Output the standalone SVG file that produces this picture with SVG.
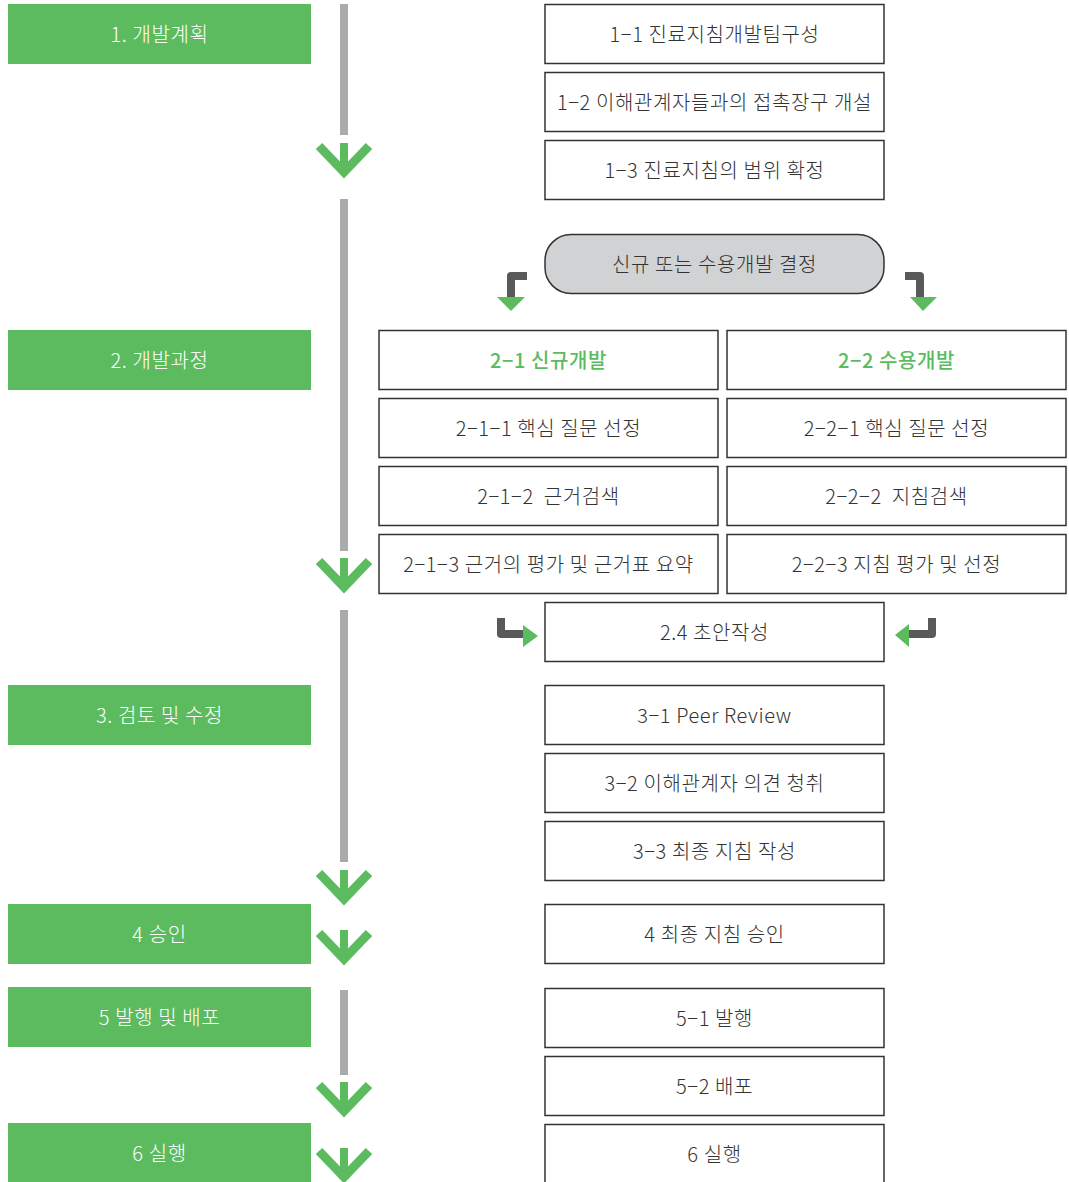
<svg xmlns="http://www.w3.org/2000/svg" width="1069" height="1182" viewBox="0 0 1069 1182">
<style>
.g{fill:#5dbb5f}
.gt{fill:#ffffff;font-family:"Noto Sans CJK KR","Noto Sans",sans-serif;font-size:20px;text-anchor:middle;font-weight:300;letter-spacing:0.6px}
.b{fill:#ffffff;stroke:#333333;stroke-width:1.5}
.t{fill:#333333;font-family:"Noto Sans CJK KR","Noto Sans",sans-serif;font-size:20px;text-anchor:middle;font-weight:300;letter-spacing:0.6px}
.tg{fill:#5dbb5f;font-family:"Noto Sans CJK KR","Noto Sans",sans-serif;font-size:20px;text-anchor:middle;font-weight:500;letter-spacing:0.6px}
.vl{fill:#aaabad}
.bend{fill:none;stroke:#58595b;stroke-width:8;stroke-linejoin:round}
.tri{fill:#5dbb5f}
.chev{fill:none;stroke:#5dbb5f;stroke-width:9}
</style>
<defs>
<g id="chev">
<path class="chev" d="M-25,-29 L0,-3 L25,-29"/>
<rect class="tri" x="-4" y="-32" width="8" height="28"/>
</g>
</defs>
<rect width="1069" height="1182" fill="#ffffff"/>
<g id="connectors">
<rect class="vl" x="340" y="4" width="8" height="131"/>
<rect class="vl" x="340" y="199" width="8" height="352"/>
<rect class="vl" x="340" y="610" width="8" height="252"/>
<rect class="vl" x="340" y="990" width="8" height="85"/>
<use href="#chev" x="344" y="175"/>
<use href="#chev" x="344" y="590"/>
<use href="#chev" x="344" y="902"/>
<use href="#chev" x="344" y="962"/>
<use href="#chev" x="344" y="1114"/>
<use href="#chev" x="344" y="1180"/>
<path class="bend" d="M527,276 L511,276 L511,298"/>
<polygon class="tri" points="497,297 525,297 511,311"/>
<path class="bend" d="M905,276 L920,276 L920,298"/>
<polygon class="tri" points="910,297 937,297 923,311"/>
<path class="bend" d="M501,618 L501,634 L524,634"/>
<polygon class="tri" points="523,625 523,647 538,636"/>
<path class="bend" d="M932,618 L932,634 L908,634"/>
<polygon class="tri" points="909,624 909,647 895,635"/>
</g>
<g id="stage1"><rect class="g" x="8" y="4" width="303" height="60"/><text class="gt" x="159.5" y="42">1. 개발계획</text></g>
<g id="stage2"><rect class="g" x="8" y="330" width="303" height="60"/><text class="gt" x="159.5" y="368">2. 개발과정</text></g>
<g id="stage3"><rect class="g" x="8" y="685" width="303" height="60"/><text class="gt" x="159.5" y="723">3. 검토 및 수정</text></g>
<g id="stage4"><rect class="g" x="8" y="904" width="303" height="60"/><text class="gt" x="159.5" y="942">4 승인</text></g>
<g id="stage5"><rect class="g" x="8" y="987" width="303" height="60"/><text class="gt" x="159.5" y="1025">5 발행 및 배포</text></g>
<g id="stage6"><rect class="g" x="8" y="1123" width="303" height="60"/><text class="gt" x="159.5" y="1161">6 실행</text></g>
<g id="n1-1"><rect class="b" x="545" y="4.5" width="339" height="59"/><text class="t" x="714.5" y="42">1−1 진료지침개발팀구성</text></g>
<g id="n1-2"><rect class="b" x="545" y="72.5" width="339" height="59"/><text class="t" x="714.5" y="110">1−2 이해관계자들과의 접촉장구 개설</text></g>
<g id="n1-3"><rect class="b" x="545" y="140.5" width="339" height="59"/><text class="t" x="714.5" y="178">1−3 진료지침의 범위 확정</text></g>
<g id="decision"><rect x="545" y="234.5" width="339" height="59" rx="26" fill="#d1d2d4" stroke="#333333" stroke-width="1.5"/><text class="t" x="714.5" y="272">신규 또는 수용개발 결정</text></g>
<g id="n2-1"><rect class="b" x="379" y="330.5" width="339" height="59"/><text class="tg" x="548.5" y="368">2−1 신규개발</text></g>
<g id="n2-2"><rect class="b" x="727" y="330.5" width="339" height="59"/><text class="tg" x="896.5" y="368">2−2 수용개발</text></g>
<g id="n2-1-1"><rect class="b" x="379" y="398.5" width="339" height="59"/><text class="t" x="548.5" y="436">2−1−1 핵심 질문 선정</text></g>
<g id="n2-2-1"><rect class="b" x="727" y="398.5" width="339" height="59"/><text class="t" x="896.5" y="436">2−2−1 핵심 질문 선정</text></g>
<g id="n2-1-2"><rect class="b" x="379" y="466.5" width="339" height="59"/><text class="t" x="548.5" y="504" xml:space="preserve">2−1−2  근거검색</text></g>
<g id="n2-2-2"><rect class="b" x="727" y="466.5" width="339" height="59"/><text class="t" x="896.5" y="504" xml:space="preserve">2−2−2  지침검색</text></g>
<g id="n2-1-3"><rect class="b" x="379" y="534.5" width="339" height="59"/><text class="t" x="548.5" y="572">2−1−3 근거의 평가 및 근거표 요약</text></g>
<g id="n2-2-3"><rect class="b" x="727" y="534.5" width="339" height="59"/><text class="t" x="896.5" y="572">2−2−3 지침 평가 및 선정</text></g>
<g id="n2-4"><rect class="b" x="545" y="602.5" width="339" height="59"/><text class="t" x="714.5" y="640">2.4 초안작성</text></g>
<g id="n3-1"><rect class="b" x="545" y="685.5" width="339" height="59"/><text class="t" x="714.5" y="723">3−1 Peer Review</text></g>
<g id="n3-2"><rect class="b" x="545" y="753.5" width="339" height="59"/><text class="t" x="714.5" y="791">3−2 이해관계자 의견 청취</text></g>
<g id="n3-3"><rect class="b" x="545" y="821.5" width="339" height="59"/><text class="t" x="714.5" y="859">3−3 최종 지침 작성</text></g>
<g id="n4"><rect class="b" x="545" y="904.5" width="339" height="59"/><text class="t" x="714.5" y="942">4 최종 지침 승인</text></g>
<g id="n5-1"><rect class="b" x="545" y="988.5" width="339" height="59"/><text class="t" x="714.5" y="1026">5−1 발행</text></g>
<g id="n5-2"><rect class="b" x="545" y="1056.5" width="339" height="59"/><text class="t" x="714.5" y="1094">5−2 배포</text></g>
<g id="n6"><rect class="b" x="545" y="1124.5" width="339" height="62"/><text class="t" x="714.5" y="1162">6 실행</text></g>
</svg>
